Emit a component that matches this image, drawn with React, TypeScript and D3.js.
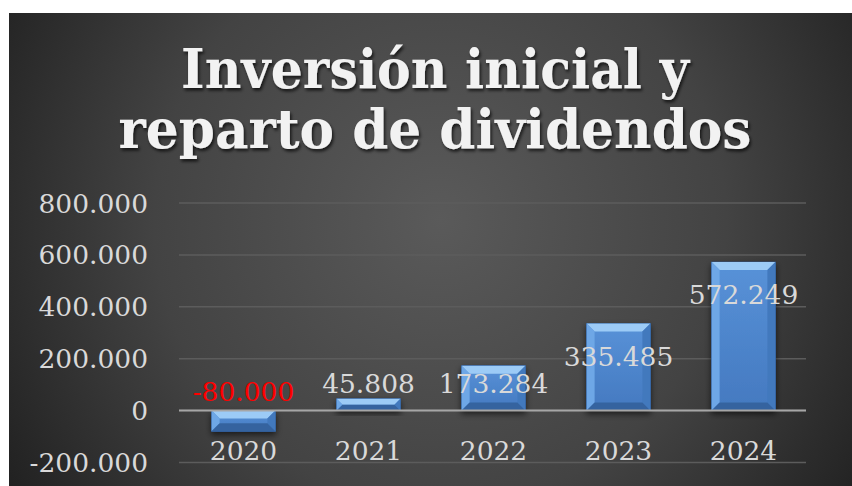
import React from "react";
import * as d3 from "d3";

const categories = ["2020", "2021", "2022", "2023", "2024"];
const values = [-80000, 45808, 173284, 335485, 572249];
const labels = ["-80.000", "45.808", "173.284", "335.485", "572.249"];
const yTicks = [-200000, 0, 200000, 400000, 600000, 800000];
const yTickLabels = ["-200.000", "0", "200.000", "400.000", "600.000", "800.000"];
const titleLines = ["Inversión inicial y", "reparto de dividendos"];

const W = 852;
const H = 486;
const plot = { left: 181, right: 806, top: 203, bottom: 462.5 };

export default function App() {
  const x = d3.scaleBand().domain(categories).range([plot.left, plot.right]).paddingInner(0.49).paddingOuter(0.245);
  const y = d3.scaleLinear().domain([-200000, 800000]).range([plot.bottom, plot.top]);
  const bw = x.bandwidth();
  const y0 = y(0);
  const bev = 8;
  const serif = "'DejaVu Serif', 'Liberation Serif', serif";

  return (
    <svg width={W} height={H} style={{ position: "absolute", left: 0, top: 0 }} xmlns="http://www.w3.org/2000/svg">
      <defs>
        <radialGradient id="bg" cx="440" cy="220" r="520" gradientUnits="userSpaceOnUse">
          <stop offset="0" stopColor="#5a5a5a" />
          <stop offset="0.55" stopColor="#434343" />
          <stop offset="1" stopColor="#1f1f1f" />
        </radialGradient>
        <linearGradient id="barBody" x1="0" y1="0" x2="0" y2="1">
          <stop offset="0" stopColor="#5892d8" />
          <stop offset="1" stopColor="#4479c0" />
        </linearGradient>
        <filter id="tshadow" x="-10%" y="-20%" width="120%" height="150%">
          <feDropShadow dx="1.5" dy="2.5" stdDeviation="1.5" floodColor="#000" floodOpacity="0.7" />
        </filter>
        <filter id="bshadow" x="-20%" y="-20%" width="140%" height="160%">
          <feDropShadow dx="0" dy="3" stdDeviation="3" floodColor="#000" floodOpacity="0.6" />
        </filter>
      </defs>
      <rect x={0} y={0} width={W} height={H} fill="#ffffff" />
      <rect x={9} y={13} width={W - 9} height={H - 13} fill="url(#bg)" />

      {titleLines.map((t, i) => (
        <text
          key={t}
          x={435}
          y={88 + i * 60}
          textAnchor="middle"
          fontFamily={serif}
          fontWeight="bold"
          fontSize={55}
          fill="#f2f2f2"
          filter="url(#tshadow)"
          textLength={i === 0 ? 508 : 633}
          lengthAdjust="spacingAndGlyphs"
        >
          {t}
        </text>
      ))}

      {yTicks.map((v) => (
        <line
          key={"g" + v}
          x1={plot.left - 2}
          x2={plot.right}
          y1={y(v)}
          y2={y(v)}
          stroke="#5c5c5c"
          strokeWidth={1.5}
        />
      ))}

      {yTicks.map((v, i) => (
        <text
          key={"t" + v}
          x={148}
          y={y(v)}
          dy="0.36em"
          textAnchor="end"
          fontFamily={serif}
          fontSize={26.5}
          fill="#d9d9d9"
        >
          {yTickLabels[i]}
        </text>
      ))}

      {values.map((v, i) => {
        const bx = x(categories[i])!;
        const top = Math.min(y(v), y0);
        const h = Math.abs(y(v) - y0);
        const b = Math.min(bev, h / 2);
        return (
          <g key={"b" + i} filter="url(#bshadow)">
            <rect x={bx} y={top} width={bw} height={h} fill="url(#barBody)" stroke="#2f5f9e" strokeWidth={0.8} />
            <polygon
              points={`${bx},${top} ${bx + bw},${top} ${bx + bw - b},${top + b} ${bx + b},${top + b}`}
              fill="#9ccbf6"
            />
            <polygon
              points={`${bx},${top} ${bx + b},${top + b} ${bx + b},${top + h - b} ${bx},${top + h}`}
              fill="#6ea7e6"
            />
            <polygon
              points={`${bx + bw},${top} ${bx + bw - b},${top + b} ${bx + bw - b},${top + h - b} ${bx + bw},${top + h}`}
              fill="#4279bd"
            />
            <polygon
              points={`${bx},${top + h} ${bx + b},${top + h - b} ${bx + bw - b},${top + h - b} ${bx + bw},${top + h}`}
              fill="#35649f"
            />
          </g>
        );
      })}

      <line x1={plot.left - 2} x2={plot.right} y1={y0} y2={y0} stroke="#a6a6a6" strokeWidth={2} />

      {values.map((v, i) => {
        const cx = x(categories[i])! + bw / 2;
        const ly = v < 0 ? y0 - 10 : Math.min(y(v) + 42, y0 - 18);
        return (
          <text
            key={"l" + i}
            x={cx}
            y={ly}
            textAnchor="middle"
            fontFamily={serif}
            fontSize={26.5}
            fill={v < 0 ? "#ff0000" : "#d9d9d9"}
          >
            {labels[i]}
          </text>
        );
      })}

      {categories.map((c) => (
        <text
          key={"c" + c}
          x={x(c)! + bw / 2}
          y={460}
          textAnchor="middle"
          fontFamily={serif}
          fontSize={26.5}
          fill="#d9d9d9"
        >
          {c}
        </text>
      ))}
    </svg>
  );
}
